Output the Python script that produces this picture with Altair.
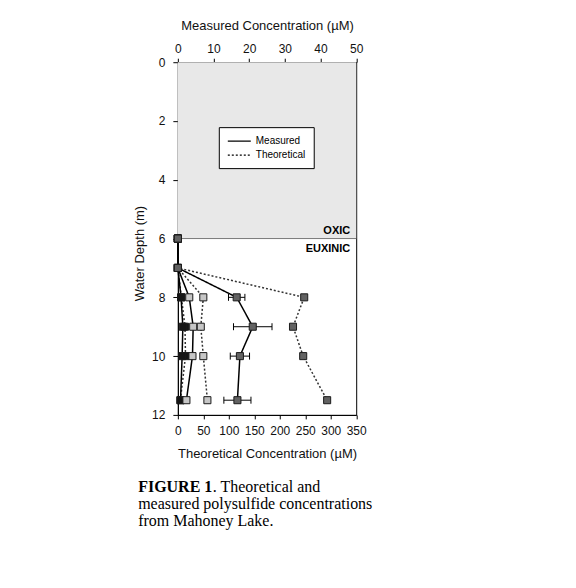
import altair as alt
import pandas as pd

# ---------------- data ----------------
depth = [6, 7, 8, 9, 10, 11.5]

# measured concentrations (µM, top axis)
meas_black = [0, 0, 0.9, 1.4, 1.2, 0.75]
meas_light = [0, 0, 3.2, 4.3, 4.1, 2.4]
meas_dark = [0, 0, 16.5, 21.0, 17.4, 16.7]
meas_dark_err = [0, 0, 2.3, 5.4, 2.7, 3.8]

# theoretical concentrations (µM, bottom axis)
theo_black = [0, 0, 7, 14, 15, 5]
theo_light = [0, 0, 50, 45, 50, 58]
theo_dark = [0, 0, 248, 226, 246, 293]

depth_ticks = [0, 2, 4, 6, 8, 10, 12]
meas_ticks = [0, 10, 20, 30, 40, 50]
theo_ticks = [0, 50, 100, 150, 200, 250, 300, 350]

zone_boundary = 6
zone_labels = ["OXIC", "EUXINIC"]
legend_labels = ["Measured", "Theoretical"]

caption_bold = "FIGURE\u00a01"
caption_lines = [". Theoretical and", "measured polysulfide concentrations", "from Mahoney Lake."]

# ---------------- layout / style ----------------
W, H = 178.5, 353
FONT = "Liberation Sans"
SERIF = "Liberation Serif"
FILLS = {"black": "#151515", "light": "#c6c6c6", "dark": "#626262"}


def long(vals, name, kind):
    return pd.DataFrame({"depth": depth, "value": vals, "series": name, "kind": kind,
                         "shade": FILLS[name]})


meas = pd.concat([long(meas_black, "black", "Measured"),
                  long(meas_light, "light", "Measured"),
                  long(meas_dark, "dark", "Measured")], ignore_index=True)
theo = pd.concat([long(theo_black, "black", "Theoretical"),
                  long(theo_light, "light", "Theoretical"),
                  long(theo_dark, "dark", "Theoretical")], ignore_index=True)

err = pd.DataFrame({"depth": depth, "value": meas_dark, "err": meas_dark_err})
err = err[err["err"] > 0].copy()
err["lo"] = err["value"] - err["err"]
err["hi"] = err["value"] + err["err"]
caps = pd.concat([err[["depth", "lo"]].rename(columns={"lo": "cap"}),
                  err[["depth", "hi"]].rename(columns={"hi": "cap"})], ignore_index=True)

y_scale = alt.Scale(domain=[0, 12], reverse=True, nice=False, zero=False)
y_axis = alt.Axis(values=depth_ticks, title="Water Depth (m)", tickSize=5,
                  labelPadding=8, titlePadding=5, titleY=191, grid=False,
                  labelFlush=False)


def Y(field):
    return alt.Y(field, scale=y_scale, axis=y_axis)


meas_scale = alt.Scale(domain=[0, 50], nice=False, zero=False)
theo_scale = alt.Scale(domain=[0, 350], nice=False, zero=False)

top_axis = alt.Axis(orient="top", values=meas_ticks, title="Measured Concentration (µM)",
                    tickSize=4, labelPadding=3, titlePadding=10, grid=False,
                    labelOverlap=False, labelFlush=False)
bottom_axis = alt.Axis(orient="bottom", values=theo_ticks,
                       title="Theoretical Concentration  (µM)",
                       tickSize=4, labelPadding=7, titlePadding=11, grid=False,
                       labelOverlap=False, labelFlush=False)

dash = alt.StrokeDash("kind:N",
                      scale=alt.Scale(domain=legend_labels, range=[[1, 0], [2, 2]]),
                      legend=alt.Legend(orient="none", legendX=41, legendY=65, title=None,
                                        fillColor="white", strokeColor="black",
                                        padding=8, rowPadding=3,
                                        symbolType="M-1,0H3.6", symbolSize=100,
                                        symbolStrokeWidth=1.4, symbolStrokeColor="black",
                                        labelOffset=17, labelFont=FONT, labelFontSize=10,
                                        labelColor="black"))

# ---------------- decorations ----------------
zone_df = pd.DataFrame({"top": [0], "bottom": [zone_boundary]})
oxic = alt.Chart(zone_df).mark_rect(fill="#e8e8e8").encode(
    x=alt.value(0), x2=alt.value(W), y=Y("top:Q"), y2="bottom:Q")
boundary = alt.Chart(zone_df).mark_rule(color="#777777", strokeWidth=1).encode(
    x=alt.value(0), x2=alt.value(W), y=Y("bottom:Q"))

zl = pd.DataFrame({"depth": [zone_boundary, zone_boundary], "label": zone_labels})
oxic_txt = alt.Chart(zl.iloc[[0]]).mark_text(align="right", baseline="middle", dy=-8,
                                             font=FONT, fontSize=11, fontWeight="bold",
                                             color="black").encode(
    x=alt.value(W - 6), y=Y("depth:Q"), text="label:N")
eux_txt = alt.Chart(zl.iloc[[1]]).mark_text(align="right", baseline="middle", dy=10,
                                            font=FONT, fontSize=11, fontWeight="bold",
                                            color="black").encode(
    x=alt.value(W - 6), y=Y("depth:Q"), text="label:N")

# ---------------- data layers ----------------
theo_lines = alt.Chart(theo).mark_line(color="#333333", strokeWidth=1.5).encode(
    x=alt.X("value:Q", scale=theo_scale, axis=bottom_axis),
    y=Y("depth:Q"), detail="series:N", strokeDash=dash, order="depth:Q")
meas_lines = alt.Chart(meas).mark_line(color="black", strokeWidth=1.5).encode(
    x=alt.X("value:Q", scale=meas_scale, axis=top_axis),
    y=Y("depth:Q"), detail="series:N", strokeDash=dash, order="depth:Q")

err_rule = alt.Chart(err).mark_rule(color="black", strokeWidth=1).encode(
    x=alt.X("lo:Q", scale=meas_scale, axis=None), x2="hi:Q", y=Y("depth:Q"))
err_caps = alt.Chart(caps).mark_point(shape="M0,-1L0,1", size=49, filled=False,
                                      color="black", strokeWidth=1, opacity=1).encode(
    x=alt.X("cap:Q", scale=meas_scale, axis=None), y=Y("depth:Q"))


def pts(df, name, scale):
    return alt.Chart(df[df["series"] == name]).mark_square(
        size=50, stroke="#1a1a1a", strokeWidth=1, opacity=1).encode(
        x=alt.X("value:Q", scale=scale, axis=None), y=Y("depth:Q"),
        fill=alt.Fill("shade:N", scale=None))


layers = [oxic, boundary, oxic_txt, eux_txt, theo_lines, meas_lines, err_rule, err_caps,
          pts(theo, "black", theo_scale), pts(meas, "black", meas_scale),
          pts(theo, "light", theo_scale), pts(meas, "light", meas_scale),
          pts(theo, "dark", theo_scale), pts(meas, "dark", meas_scale)]

# caption
cap_df = pd.DataFrame({"t": [caption_bold]})
cap_bold = alt.Chart(cap_df).mark_text(align="left", baseline="alphabetic", font=SERIF,
                                       fontSize=16, fontWeight="bold", color="black").encode(
    x=alt.value(-39.7), y=alt.value(429.7), text="t:N")
cap_layers = [cap_bold]
cap_pos = [(35.0, 429.7), (-39.7, 447.3), (-39.7, 464.5)]
for line, (cx, cy) in zip(caption_lines, cap_pos):
    cap_layers.append(alt.Chart(pd.DataFrame({"t": [line]})).mark_text(
        align="left", baseline="alphabetic", font=SERIF, fontSize=16, color="black").encode(
        x=alt.value(cx), y=alt.value(cy), text="t:N"))

chart = alt.layer(*layers, *cap_layers).resolve_scale(x="independent").properties(
    width=W, height=H,
    autosize=alt.AutoSizeParams(type="none"),
    padding={"left": 170, "top": 54, "right": 212, "bottom": 165},
    background="white",
).configure_view(stroke="black", strokeWidth=1).configure_axis(
    domainColor="black", tickColor="black", labelColor="#111111", titleColor="#111111",
    labelFont=FONT, titleFont=FONT, labelFontSize=12, titleFontSize=13,
    titleFontWeight="normal", domainWidth=1, tickWidth=1)

chart.save("out.html", embed_options={"renderer": "svg", "actions": False})
